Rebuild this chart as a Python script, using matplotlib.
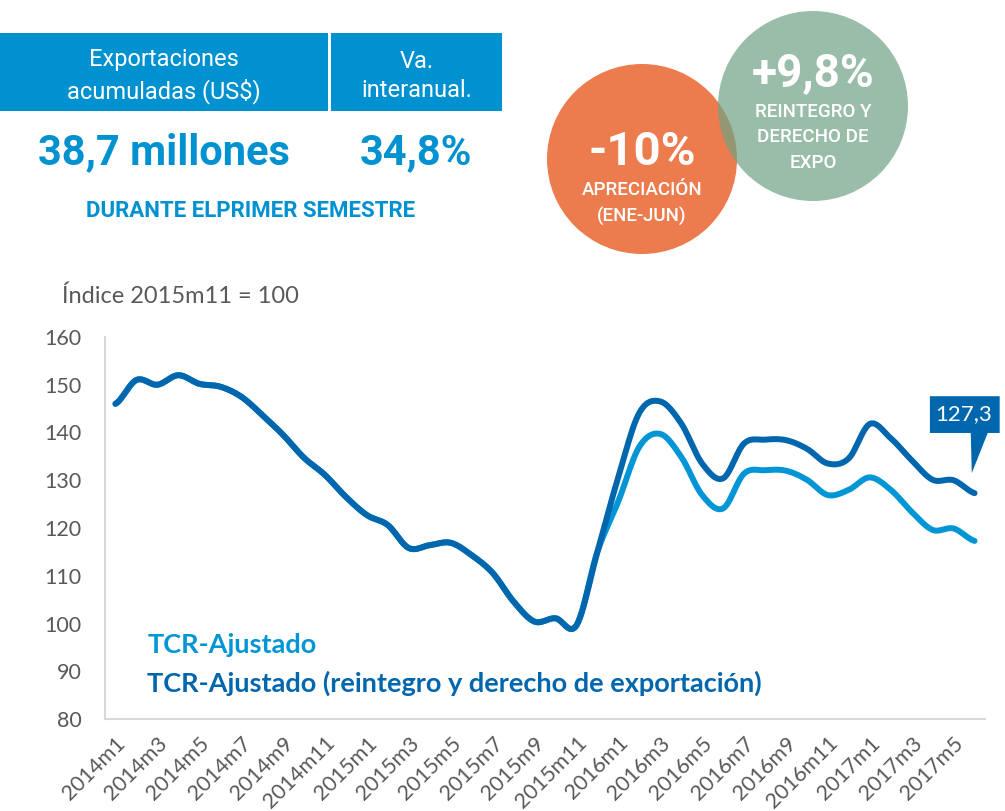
import numpy as np
import matplotlib
matplotlib.use("Agg")
import matplotlib.pyplot as plt
from matplotlib.patches import Rectangle, Circle, Polygon

# monthly labels 2014m1 .. 2017m6
months = [f"{y}m{m}" for y in (2014, 2015, 2016, 2017) for m in range(1, 13)][:42]

tcr_reint = [146.0, 151.0, 150.0, 152.0, 150.2, 149.6, 147.5, 143.7, 139.5, 134.7,
             131.1, 126.5, 122.7, 120.6, 115.8, 116.4, 116.9, 114.3, 110.6, 104.6,
             100.4, 101.1, 99.6, 115.0, 130.7, 144.1, 146.5, 141.9, 133.5, 130.4,
             137.7, 138.5, 138.4, 136.6, 133.5, 134.6, 141.8, 138.8, 134.2, 130.1,
             130.0, 127.3]
tcr_ajust = [146.0, 151.0, 150.0, 152.0, 150.2, 149.6, 147.5, 143.7, 139.5, 134.7,
             131.1, 126.5, 122.7, 120.6, 115.8, 116.4, 116.9, 114.3, 110.6, 104.6,
             100.4, 101.1, 99.6, 115.0, 125.6, 137.0, 139.7, 134.9, 126.9, 124.1,
             131.4, 132.1, 132.0, 130.1, 126.9, 128.0, 130.6, 128.0, 123.4, 119.6,
             119.9, 117.3]
last_label = "127,3"

DARK = "#0066AD"
LIGHT = "#0096D6"
HEAD = "#0091D0"
GRAY = "#595959"


def smooth(y, n=12):
    # Catmull-Rom curve through the points, like Excel's smoothed line
    y = np.asarray(y, float)
    p = np.concatenate([[y[0]], y, [y[-1]]])
    xs, ys = [], []
    t = np.linspace(0, 1, n, endpoint=False)
    for i in range(len(y) - 1):
        p0, p1, p2, p3 = p[i], p[i + 1], p[i + 2], p[i + 3]
        seg = 0.5 * ((2 * p1) + (-p0 + p2) * t + (2 * p0 - 5 * p1 + 4 * p2 - p3) * t ** 2
                     + (-p0 + 3 * p1 - 3 * p2 + p3) * t ** 3)
        xs.append(i + t)
        ys.append(seg)
    xs.append([len(y) - 1])
    ys.append([y[-1]])
    return np.concatenate(xs), np.concatenate(ys)


fig = plt.figure(figsize=(10.05, 8.11), dpi=100)

# overlay in pixel coordinates for the header boxes and circles
bg = fig.add_axes([0, 0, 1, 1])
bg.set_xlim(0, 1005)
bg.set_ylim(811, 0)
bg.axis("off")

bg.add_patch(Rectangle((0, 33), 328, 78, color=HEAD, lw=0))
bg.add_patch(Rectangle((331, 33), 171, 78, color=HEAD, lw=0))
bg.text(164, 76, "Exportaciones\nacumuladas (US$)", color="white", family="Roboto",
        fontsize=17, ha="center", va="center", linespacing=1.33)
bg.text(417, 76, "Va.\ninteranual.", color="white", family="Roboto",
        fontsize=17, ha="center", va="center", linespacing=1.33)
bg.text(164, 153, "38,7 millones", color=HEAD, family="Roboto", weight="bold",
        fontsize=30, ha="center", va="center")
bg.text(416, 153, "34,8%", color=HEAD, family="Roboto", weight="bold",
        fontsize=30, ha="center", va="center")
bg.text(251, 211, "DURANTE ELPRIMER SEMESTRE", color=HEAD, family="Roboto",
        weight="bold", fontsize=16, ha="center", va="center")

bg.add_patch(Circle((642, 159), 95, color="#EC7C4D", lw=0))
bg.add_patch(Circle((813, 106), 95, color="#70A286", alpha=0.7, lw=0))
bg.text(642, 152, "-10%", color="white", family="Roboto", weight="bold",
        fontsize=34, ha="center", va="center")
bg.text(642, 190, "APRECIACIÓN", color="white", family="Roboto", weight="medium",
        fontsize=13.5, ha="center", va="center")
bg.text(642, 216, "(ENE-JUN)", color="white", family="Roboto", weight="medium",
        fontsize=13.5, ha="center", va="center")
bg.text(813, 73, "+9,8%", color="white", family="Roboto", weight="bold",
        fontsize=33, ha="center", va="center")
for k, s in enumerate(["REINTEGRO Y", "DERECHO DE", "EXPO"]):
    bg.text(813, 112 + 25.5 * k, s, color="white", family="Roboto", weight="medium",
            fontsize=13.5, ha="center", va="center")

bg.text(62, 296, "Índice 2015m11 = 100", color=GRAY, family="Lato",
        fontsize=17, ha="left", va="center")

# main chart
ax = fig.add_axes([105 / 1005, 1 - 719 / 811, 880 / 1005, 382 / 811])
ax.patch.set_alpha(0)

x1, y1 = smooth(tcr_ajust)
x2, y2 = smooth(tcr_reint)
ax.plot(x1, y1, color=LIGHT, lw=4.3, solid_capstyle="round")
ax.plot(x2, y2, color=DARK, lw=4.3, solid_capstyle="round")

ax.set_xlim(-0.5, len(months) - 0.5)
ax.set_ylim(80, 160)
ax.set_yticks(range(80, 161, 10))
ax.set_xticks(range(0, len(months), 2))
ax.set_xticklabels(months[::2], rotation=45, ha="right", rotation_mode="anchor")
ax.tick_params(length=0, colors=GRAY)
ax.tick_params(axis="y", pad=17, labelsize=15.5)
ax.tick_params(axis="x", pad=10, labelsize=15.5)
for lab in ax.get_xticklabels() + ax.get_yticklabels():
    lab.set_family("Lato")
for side in ("top", "right"):
    ax.spines[side].set_visible(False)
for side in ("left", "bottom"):
    ax.spines[side].set_color("#D9D9D9")
    ax.spines[side].set_linewidth(1.5)

ax.text(0.048, 0.194, "TCR-Ajustado", transform=ax.transAxes, color=LIGHT,
        family="Lato", weight="bold", fontsize=19.5, va="center")
ax.text(0.048, 0.094, "TCR-Ajustado (reintegro y derecho de exportación)",
        transform=ax.transAxes, color=DARK, family="Lato", weight="bold",
        fontsize=19.5, va="center")

# callout for the last value
lx, ly = len(tcr_reint) - 1, tcr_reint[-1]
shape = [(lx - 2.13, ly + 20.3), (lx + 1.2, ly + 20.3), (lx + 1.2, ly + 12.6),
         (lx + 0.63, ly + 12.6), (lx - 0.13, ly + 4.2), (lx - 0.18, ly + 12.6),
         (lx - 2.13, ly + 12.6)]
ax.add_patch(Polygon(shape, closed=True, color=DARK, lw=0, clip_on=False))
ax.text(lx - 0.5, ly + 16.5, last_label, color="white", family="Lato",
        fontsize=16, ha="center", va="center", clip_on=False)

fig.savefig("out.png", dpi=100)
